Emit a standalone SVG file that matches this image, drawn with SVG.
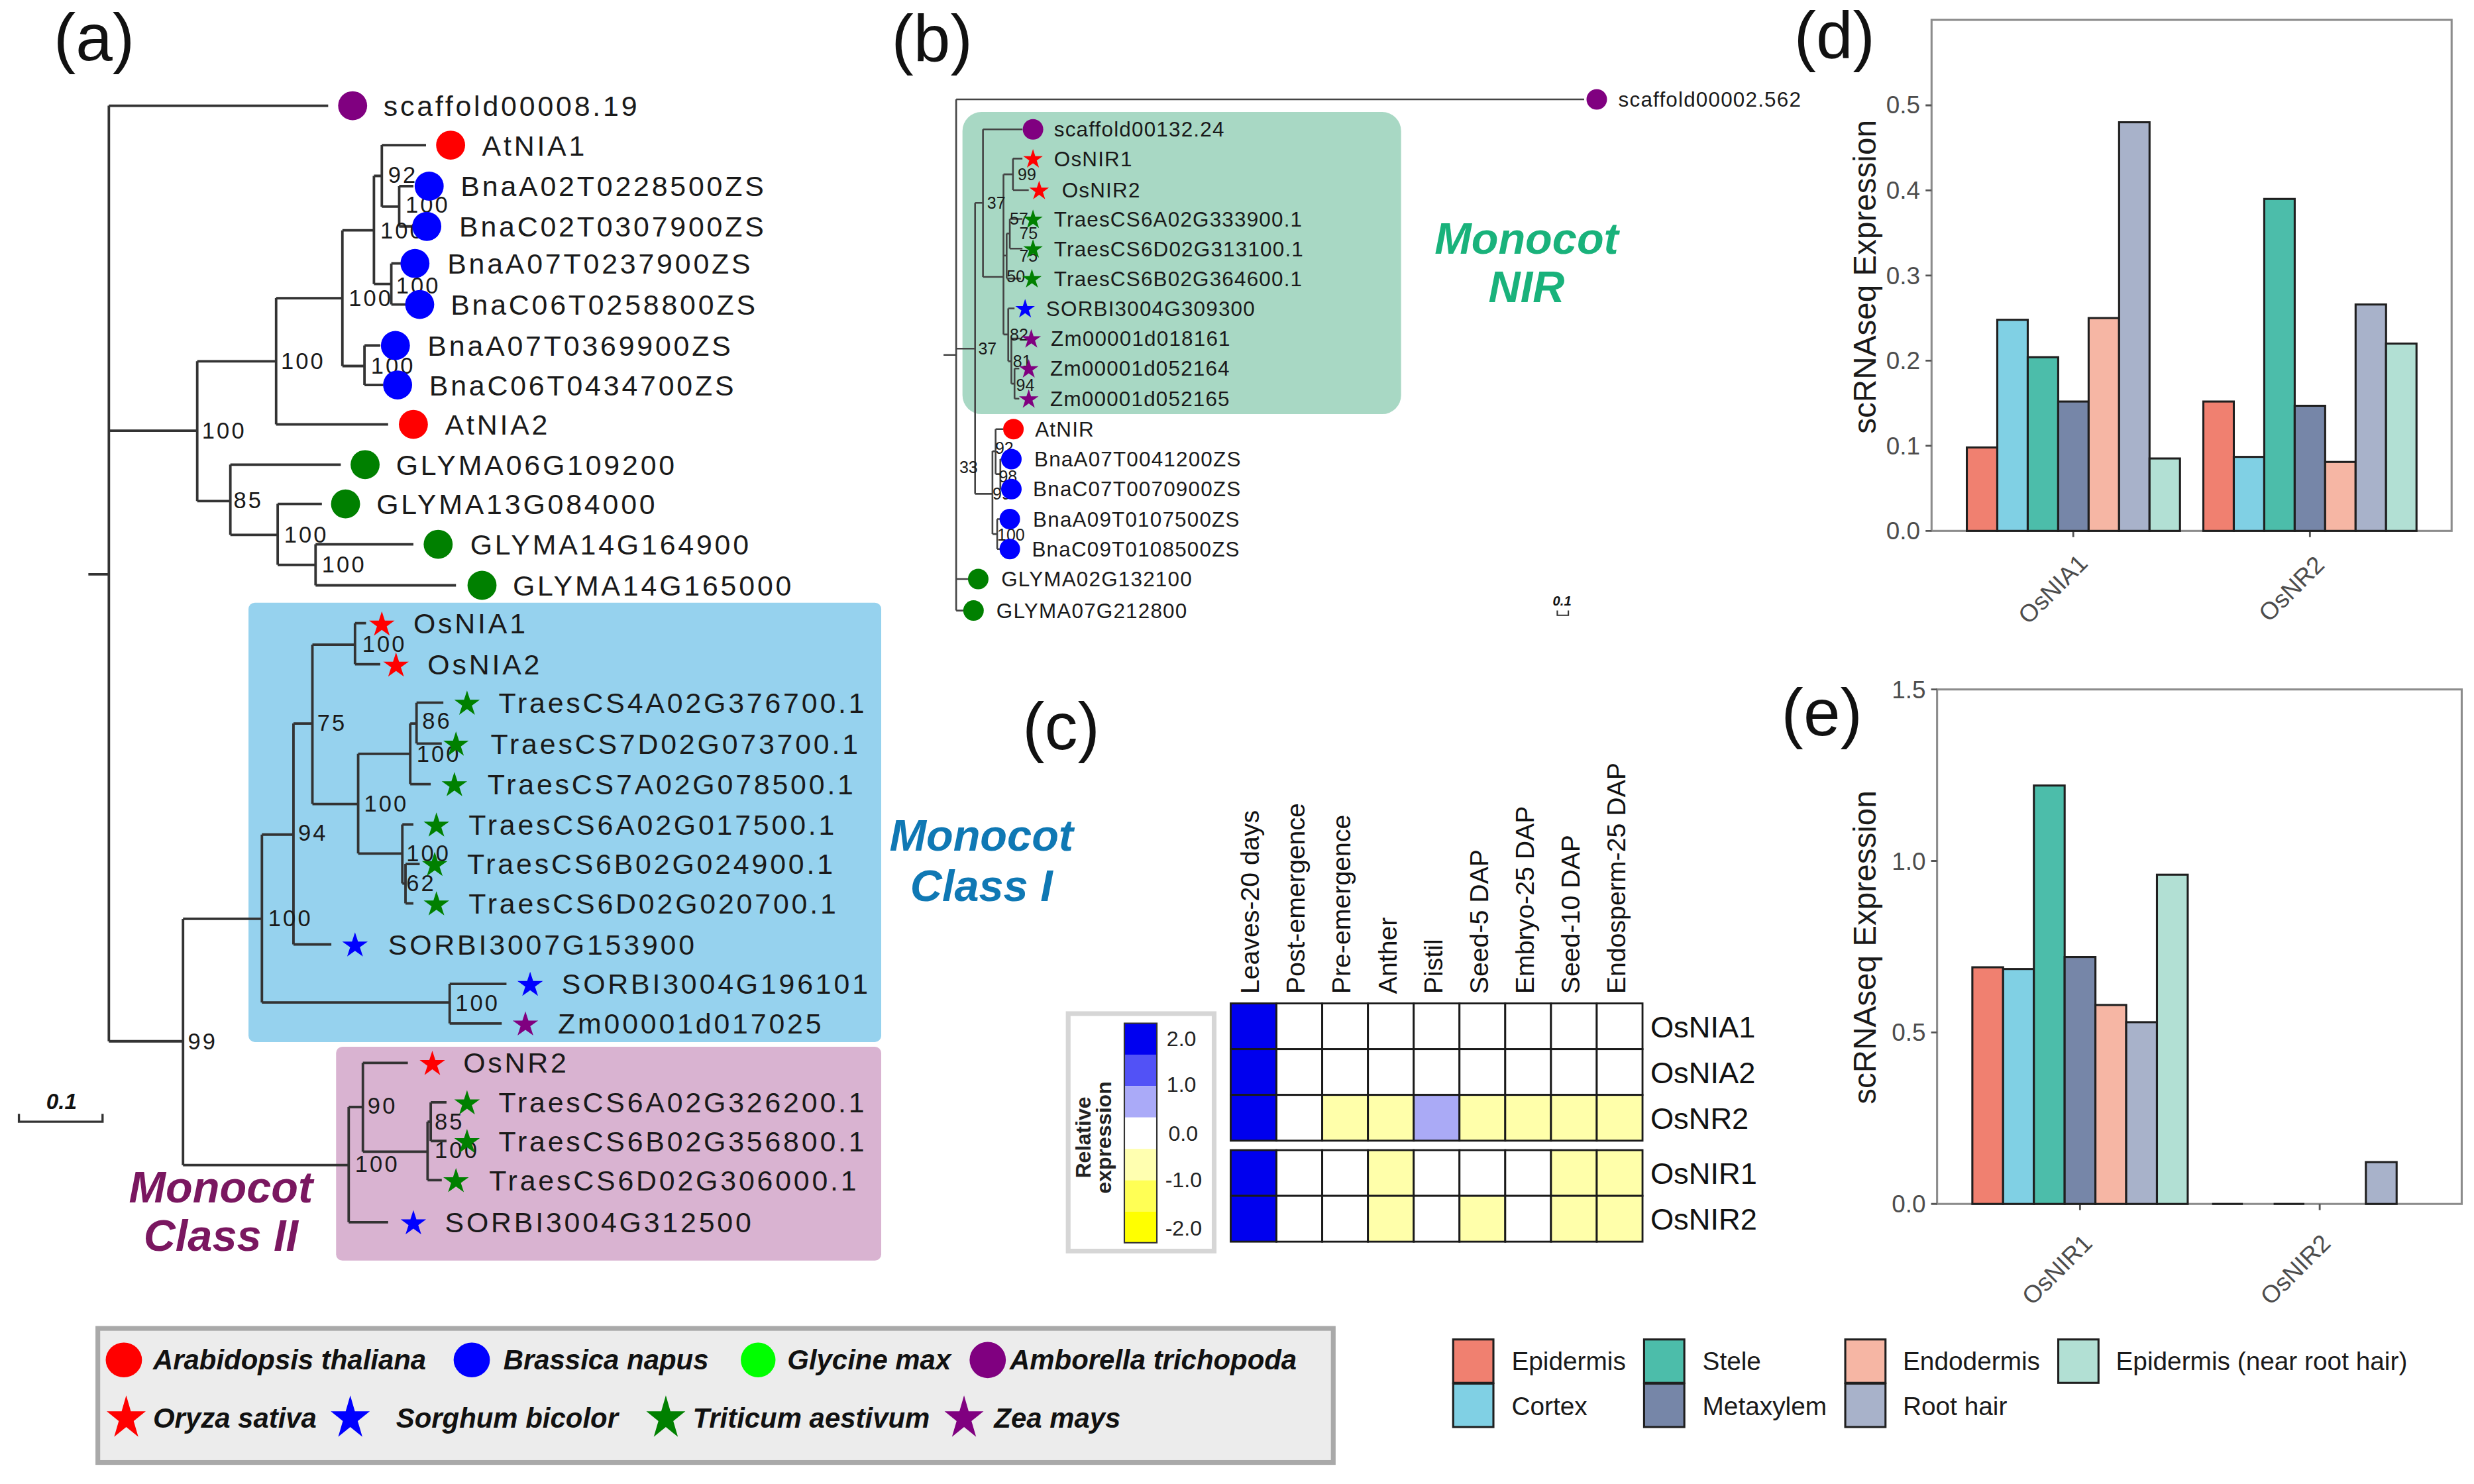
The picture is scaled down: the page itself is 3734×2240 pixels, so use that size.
<svg xmlns="http://www.w3.org/2000/svg" width="3734" height="2240" viewBox="0 0 3734 2240">
<style>
text{font-family:"Liberation Sans",Arial,sans-serif}
.la{font-size:18px;letter-spacing:1.6px;fill:#1a1a1a}
.ba{font-size:14.5px;letter-spacing:1.3px;fill:#1a1a1a}
.lb{font-size:13.2px;letter-spacing:0.5px;fill:#1a1a1a}
.bb{font-size:10.5px;fill:#1a1a1a}
.br{fill:none;stroke:#333;stroke-width:1.6}
.brb{fill:none;stroke:#444;stroke-width:1.1}
.pl{font-size:42px;fill:#111}
.grp{font-size:28px;font-weight:bold;font-style:italic;text-anchor:middle}
.cell{stroke:#1a1a1a;stroke-width:1.2}
.hb{fill:#0000ee}.hw{fill:#fff}.hy{fill:#ffffaa}.hl{fill:#aaaaf6}
.col{font-size:16.5px;fill:#111}
.row{font-size:19px;fill:#111}
.bar{stroke:#1f1f1f;stroke-width:1.3}
.tick{font-size:15.5px;fill:#4d4d4d;text-anchor:end}
.xl{font-size:15.5px;fill:#4d4d4d;text-anchor:end}
.ax{stroke:#8c8c8c;fill:none;stroke-width:1.3}
.yt{font-size:20px;fill:#1a1a1a;text-anchor:middle}
.lg{font-size:16.3px;fill:#1a1a1a}
.sp{font-size:17.6px;font-weight:bold;font-style:italic;fill:#111}
.ep{fill:#f08070}.co{fill:#80d0e4}.ste{fill:#4cbdaa}.mx{fill:#7686a8}.en{fill:#f6b6a4}.rh{fill:#a8b2ca}.enr{fill:#b2e0d4}
.r{fill:#ff0000}.b{fill:#0000ff}.g{fill:#008000}.p{fill:#800080}
</style>
<defs>
<path id="st" d="M0,-10L2.245,-3.09L9.511,-3.09L3.633,1.18L5.878,8.09L0,3.82L-5.878,8.09L-3.633,1.18L-9.511,-3.09L-2.245,-3.09Z"/>
</defs>
<rect x="0" y="0" width="3734" height="2240" fill="#ffffff"/>
<g transform="scale(2.3814)">

<!-- ============ PANEL A ============ -->
<g id="panel-a">
<text class="pl" x="34" y="38">(a)</text>
<rect id="a-box-class1" x="157.5" y="382" width="401" height="278.5" rx="4" fill="#96d2ee"/>
<rect id="a-box-class2" x="213" y="663.5" width="345.5" height="135.5" rx="4" fill="#d9b3d1"/>
<g id="a-group-labels">
<text class="grp" x="622" y="539" fill="#0f78b4">Monocot</text>
<text class="grp" x="622" y="571" fill="#0f78b4">Class I</text>
<text class="grp" x="140" y="762" fill="#7a1760">Monocot</text>
<text class="grp" x="140" y="793" fill="#7a1760">Class II</text>
</g>
<g id="a-branches" class="br">
<path d="M69,67V660M56,364H69M69,67H208"/>
<path d="M69,273H125M125,229V317.6M125,229H175M175,189V269M175,269H246"/>
<path d="M175,189H217M217,146V232M217,146H237M237,111.5V180M237,111.5H242M242,92V131M242,92H270M242,131H253M253,118V143.5M253,118H262M253,143.5H261"/>
<path d="M237,180H248M248,167V193M248,167H254M248,193H257"/>
<path d="M217,232H231M231,219V244M231,219H241M231,244H243"/>
<path d="M125,317.6H146M146,294.5V339M146,294.5H216M146,339H176M176,319.4V358M176,319.4H204M176,358H200M200,345V371M200,345H262M200,371H289"/>
<path d="M69,660H116M116,582.4V738.5M116,582.4H166M166,529V635.4M166,529H186M186,458.6V598.6M186,458.6H198M198,408.6V509.6"/>
<path d="M198,408.6H225M225,395V421M225,395H232M225,421H241"/>
<path d="M198,509.6H227M227,477.8V541M227,477.8H260M260,458.6V497M260,458.6H264M264,445.4V471.3M264,445.4H281M264,471.3H280M260,497H273"/>
<path d="M227,541H255M255,522.6V560M255,522.6H262M255,560H257M257,547.6V572.6M257,547.6H266M257,572.6H262"/>
<path d="M186,598.6H210M166,635.4H285M285,623.6V648.7M285,623.6H321M285,648.7H318"/>
<path d="M116,738.5H221M221,701.7V774.7M221,701.7H230M230,673.7V730M230,673.7H258.5M230,730H271M271,711V748M271,711H273M273,698.7V723.2M273,698.7H283M273,723.2H283M271,748H280M221,774.7H246"/>
</g>
<g id="a-bootstrap" class="ba">
<text x="128" y="278">100</text><text x="178" y="234">100</text><text x="221" y="194">100</text>
<text x="241" y="151">100</text><text x="246" y="116">92</text><text x="257" y="135">100</text>
<text x="251" y="186">100</text><text x="235" y="237">100</text><text x="148" y="322">85</text>
<text x="180" y="344">100</text><text x="204" y="363">100</text><text x="119" y="665">99</text>
<text x="170" y="587">100</text><text x="189" y="533">94</text><text x="201" y="463">75</text>
<text x="229.6" y="413">100</text><text x="230.7" y="514.6">100</text><text x="264" y="483">100</text>
<text x="267.6" y="462">86</text><text x="257.5" y="546">100</text><text x="257.5" y="565">62</text>
<text x="288.6" y="641">100</text><text x="225" y="743">100</text><text x="233" y="706">90</text>
<text x="275.5" y="734">100</text><text x="275.5" y="716">85</text>
</g>
<g id="a-leaves" class="la">
<g id="a-scaffold00008.19"><circle class="p" cx="223.5" cy="67" r="9.2"/><text x="243" y="73.5">scaffold00008.19</text></g>
<g id="a-AtNIA1"><circle class="r" cx="285.6" cy="92" r="9.2"/><text x="305.5" y="98.5">AtNIA1</text></g>
<g id="a-BnaA02T0228500ZS"><circle class="b" cx="272" cy="118" r="9.2"/><text x="292" y="124.5">BnaA02T0228500ZS</text></g>
<g id="a-BnaC02T0307900ZS"><circle class="b" cx="270.5" cy="143.5" r="9.2"/><text x="291" y="150">BnaC02T0307900ZS</text></g>
<g id="a-BnaA07T0237900ZS"><circle class="b" cx="263" cy="167" r="9.2"/><text x="283.5" y="173.5">BnaA07T0237900ZS</text></g>
<g id="a-BnaC06T0258800ZS"><circle class="b" cx="266" cy="193" r="9.2"/><text x="285.6" y="199.5">BnaC06T0258800ZS</text></g>
<g id="a-BnaA07T0369900ZS"><circle class="b" cx="250.6" cy="219" r="9.2"/><text x="271" y="225.5">BnaA07T0369900ZS</text></g>
<g id="a-BnaC06T0434700ZS"><circle class="b" cx="252" cy="244" r="9.2"/><text x="272" y="250.5">BnaC06T0434700ZS</text></g>
<g id="a-AtNIA2"><circle class="r" cx="262" cy="269" r="9.2"/><text x="282" y="275.5">AtNIA2</text></g>
<g id="a-GLYMA06G109200"><circle class="g" cx="231.4" cy="294.5" r="9.2"/><text x="251" y="301">GLYMA06G109200</text></g>
<g id="a-GLYMA13G084000"><circle class="g" cx="219" cy="319.4" r="9.2"/><text x="238.6" y="326">GLYMA13G084000</text></g>
<g id="a-GLYMA14G164900"><circle class="g" cx="277.7" cy="345" r="9.2"/><text x="298" y="351.5">GLYMA14G164900</text></g>
<g id="a-GLYMA14G165000"><circle class="g" cx="305.5" cy="371" r="9.2"/><text x="325" y="377.5">GLYMA14G165000</text></g>
<g id="a-OsNIA1"><use href="#st" class="r" transform="translate(242,396) scale(.85)"/><text x="262" y="401.5">OsNIA1</text></g>
<g id="a-OsNIA2"><use href="#st" class="r" transform="translate(251,422) scale(.85)"/><text x="271" y="427.5">OsNIA2</text></g>
<g id="a-TraesCS4A02G376700.1"><use href="#st" class="g" transform="translate(296,446.2) scale(.85)"/><text x="316" y="452">TraesCS4A02G376700.1</text></g>
<g id="a-TraesCS7D02G073700.1"><use href="#st" class="g" transform="translate(289,472.1) scale(.85)"/><text x="311" y="478">TraesCS7D02G073700.1</text></g>
<g id="a-TraesCS7A02G078500.1"><use href="#st" class="g" transform="translate(288,497.8) scale(.85)"/><text x="309" y="503.5">TraesCS7A02G078500.1</text></g>
<g id="a-TraesCS6A02G017500.1"><use href="#st" class="g" transform="translate(276.6,523.4) scale(.85)"/><text x="297" y="529">TraesCS6A02G017500.1</text></g>
<g id="a-TraesCS6B02G024900.1"><use href="#st" class="g" transform="translate(275.5,548.4) scale(.85)"/><text x="296" y="554">TraesCS6B02G024900.1</text></g>
<g id="a-TraesCS6D02G020700.1"><use href="#st" class="g" transform="translate(276.6,573.4) scale(.85)"/><text x="297" y="579">TraesCS6D02G020700.1</text></g>
<g id="a-SORBI3007G153900"><use href="#st" class="b" transform="translate(225,599.4) scale(.85)"/><text x="246" y="605">SORBI3007G153900</text></g>
<g id="a-SORBI3004G196101"><use href="#st" class="b" transform="translate(336,624.4) scale(.85)"/><text x="356" y="630">SORBI3004G196101</text></g>
<g id="a-Zm00001d017025"><use href="#st" class="p" transform="translate(333,649.5) scale(.85)"/><text x="353.6" y="655">Zm00001d017025</text></g>
<g id="a-OsNR2"><use href="#st" class="r" transform="translate(274,674.5) scale(.85)"/><text x="293.6" y="680">OsNR2</text></g>
<g id="a-TraesCS6A02G326200.1"><use href="#st" class="g" transform="translate(296,699.5) scale(.85)"/><text x="316" y="705">TraesCS6A02G326200.1</text></g>
<g id="a-TraesCS6B02G356800.1"><use href="#st" class="g" transform="translate(296,724) scale(.85)"/><text x="316" y="729.7">TraesCS6B02G356800.1</text></g>
<g id="a-TraesCS6D02G306000.1"><use href="#st" class="g" transform="translate(289,748.8) scale(.85)"/><text x="310" y="754.5">TraesCS6D02G306000.1</text></g>
<g id="a-SORBI3004G312500"><use href="#st" class="b" transform="translate(262,775.5) scale(.85)"/><text x="282" y="781">SORBI3004G312500</text></g>
</g>
<g id="a-scalebar">
<text x="39" y="703" font-size="14" font-weight="bold" font-style="italic" text-anchor="middle" fill="#111">0.1</text>
<path d="M12,706V711H65V706" fill="none" stroke="#333" stroke-width="1.4"/>
</g>
</g>

<!-- ============ PANEL B ============ -->
<g id="panel-b">
<text class="pl" x="565" y="39">(b)</text>
<rect id="b-box-nir" x="610" y="71" width="278" height="191.5" rx="12" fill="#a8d8c4"/>
<text class="grp" x="967.5" y="160.7" fill="#19b27b">Monocot</text>
<text class="grp" x="967.5" y="191.5" fill="#19b27b">NIR</text>
<g id="b-branches" class="brb">
<path d="M606,63V387M598,225H606M606,63H1004M606,221H618M618,128.6V313"/>
<path d="M618,128.6H623M623,82V175.5M623,82H648M623,175.5H636M636,110.5V212"/>
<path d="M636,110.5H642M642,100.5V120.5M642,100.5H648M642,120.5H652"/>
<path d="M636,162H638M638,148V176.5M638,148H640M640,138.8V157.6M640,138.8H648M640,157.6H648M638,176.5H647"/>
<path d="M636,212H639M639,195.5V229M639,195.5H643M639,229H641M641,214.6V243.2M641,214.6H647M641,243.2H643M643,233.6V252.7M643,233.6H646M643,252.7H646"/>
<path d="M618,313H629M629,286V338.5M629,286H631M631,272V300.5M631,272H636M631,300.5H634M634,291V310M634,291H635M634,310H635M629,338.5H632M632,329V348M632,329H634M632,348H634"/>
<path d="M606,367H614M606,387H611"/>
</g>
<g id="b-bootstrap" class="bb">
<text x="625.6" y="132.4">37</text><text x="620" y="224.8">37</text><text x="645" y="114.3">99</text>
<text x="640" y="142.3">57</text><text x="646" y="151.8">75</text><text x="646" y="165.8">75</text>
<text x="638" y="178.8">50</text><text x="640" y="215.8">82</text><text x="642" y="232.8">81</text>
<text x="644" y="247.8">94</text><text x="608" y="299.8">33</text><text x="630.7" y="287.8">92</text>
<text x="633" y="305.8">98</text><text x="629" y="316.8">99</text><text x="632" y="342.8">100</text>
</g>
<g id="b-leaves" class="lb">
<g id="b-scaffold00002.562"><circle class="p" cx="1012" cy="63" r="6.5"/><text x="1025.7" y="67.7">scaffold00002.562</text></g>
<g id="b-scaffold00132.24"><circle class="p" cx="654.7" cy="82" r="6.5"/><text x="668" y="86.7">scaffold00132.24</text></g>
<g id="b-OsNIR1"><use href="#st" class="r" transform="translate(654.7,101) scale(.65)"/><text x="668" y="105.2">OsNIR1</text></g>
<g id="b-OsNIR2"><use href="#st" class="r" transform="translate(658.6,121) scale(.65)"/><text x="673" y="125.2">OsNIR2</text></g>
<g id="b-TraesCS6A02G333900.1"><use href="#st" class="g" transform="translate(654.7,139.3) scale(.65)"/><text x="668" y="143.5">TraesCS6A02G333900.1</text></g>
<g id="b-TraesCS6D02G313100.1"><use href="#st" class="g" transform="translate(654.7,158.1) scale(.65)"/><text x="668" y="162.3">TraesCS6D02G313100.1</text></g>
<g id="b-TraesCS6B02G364600.1"><use href="#st" class="g" transform="translate(654,177) scale(.65)"/><text x="668" y="181.2">TraesCS6B02G364600.1</text></g>
<g id="b-SORBI3004G309300"><use href="#st" class="b" transform="translate(649.7,196) scale(.65)"/><text x="663" y="200.2">SORBI3004G309300</text></g>
<g id="b-Zm00001d018161"><use href="#st" class="p" transform="translate(653.6,215.1) scale(.65)"/><text x="666" y="219.3">Zm00001d018161</text></g>
<g id="b-Zm00001d052164"><use href="#st" class="p" transform="translate(652,234.1) scale(.65)"/><text x="665.6" y="238.3">Zm00001d052164</text></g>
<g id="b-Zm00001d052165"><use href="#st" class="p" transform="translate(652,253.2) scale(.65)"/><text x="665.6" y="257.4">Zm00001d052165</text></g>
<g id="b-AtNIR"><circle class="r" cx="642.3" cy="272" r="6.5"/><text x="656" y="276.7">AtNIR</text></g>
<g id="b-BnaA07T0041200ZS"><circle class="b" cx="641" cy="291" r="6.5"/><text x="655.5" y="295.7">BnaA07T0041200ZS</text></g>
<g id="b-BnaC07T0070900ZS"><circle class="b" cx="641" cy="310" r="6.5"/><text x="654.7" y="314.7">BnaC07T0070900ZS</text></g>
<g id="b-BnaA09T0107500ZS"><circle class="b" cx="640" cy="329" r="6.5"/><text x="654.7" y="333.7">BnaA09T0107500ZS</text></g>
<g id="b-BnaC09T0108500ZS"><circle class="b" cx="640" cy="348" r="6.5"/><text x="654" y="352.7">BnaC09T0108500ZS</text></g>
<g id="b-GLYMA02G132100"><circle class="g" cx="620" cy="367" r="6.5"/><text x="634.6" y="371.7">GLYMA02G132100</text></g>
<g id="b-GLYMA07G212800"><circle class="g" cx="617" cy="387" r="6.5"/><text x="631.5" y="391.7">GLYMA07G212800</text></g>
</g>
<g id="b-scalebar">
<text x="990" y="384" font-size="8.5" font-weight="bold" font-style="italic" text-anchor="middle" fill="#111">0.1</text>
<path d="M987,387V390H994V387" fill="none" stroke="#333" stroke-width="0.9"/>
</g>
</g>

<!-- ============ PANEL C ============ -->
<g id="panel-c">
<text class="pl" x="648" y="475">(c)</text>
<g id="c-columns" class="col">
<text transform="translate(798,630) rotate(-90)">Leaves-20 days</text>
<text transform="translate(827,630) rotate(-90)">Post-emergence</text>
<text transform="translate(856,630) rotate(-90)">Pre-emergence</text>
<text transform="translate(885,630) rotate(-90)">Anther</text>
<text transform="translate(914,630) rotate(-90)">Pistil</text>
<text transform="translate(943,630) rotate(-90)">Seed-5 DAP</text>
<text transform="translate(972,630) rotate(-90)">Embryo-25 DAP</text>
<text transform="translate(1001,630) rotate(-90)">Seed-10 DAP</text>
<text transform="translate(1030,630) rotate(-90)">Endosperm-25 DAP</text>
</g>
<g id="c-nr-block" transform="translate(780,636)" class="cell">
<g id="c-row-OsNIA1"><rect class="hb" x="0" y="0" width="29" height="29"/><rect class="hw" x="29" y="0" width="29" height="29"/><rect class="hw" x="58" y="0" width="29" height="29"/><rect class="hw" x="87" y="0" width="29" height="29"/><rect class="hw" x="116" y="0" width="29" height="29"/><rect class="hw" x="145" y="0" width="29" height="29"/><rect class="hw" x="174" y="0" width="29" height="29"/><rect class="hw" x="203" y="0" width="29" height="29"/><rect class="hw" x="232" y="0" width="29" height="29"/></g>
<g id="c-row-OsNIA2"><rect class="hb" x="0" y="29" width="29" height="29"/><rect class="hw" x="29" y="29" width="29" height="29"/><rect class="hw" x="58" y="29" width="29" height="29"/><rect class="hw" x="87" y="29" width="29" height="29"/><rect class="hw" x="116" y="29" width="29" height="29"/><rect class="hw" x="145" y="29" width="29" height="29"/><rect class="hw" x="174" y="29" width="29" height="29"/><rect class="hw" x="203" y="29" width="29" height="29"/><rect class="hw" x="232" y="29" width="29" height="29"/></g>
<g id="c-row-OsNR2"><rect class="hb" x="0" y="58" width="29" height="29"/><rect class="hw" x="29" y="58" width="29" height="29"/><rect class="hy" x="58" y="58" width="29" height="29"/><rect class="hy" x="87" y="58" width="29" height="29"/><rect class="hl" x="116" y="58" width="29" height="29"/><rect class="hy" x="145" y="58" width="29" height="29"/><rect class="hy" x="174" y="58" width="29" height="29"/><rect class="hy" x="203" y="58" width="29" height="29"/><rect class="hy" x="232" y="58" width="29" height="29"/></g>
</g>
<g id="c-nir-block" transform="translate(780,729)" class="cell">
<g id="c-row-OsNIR1"><rect class="hb" x="0" y="0" width="29" height="29"/><rect class="hw" x="29" y="0" width="29" height="29"/><rect class="hw" x="58" y="0" width="29" height="29"/><rect class="hy" x="87" y="0" width="29" height="29"/><rect class="hw" x="116" y="0" width="29" height="29"/><rect class="hw" x="145" y="0" width="29" height="29"/><rect class="hw" x="174" y="0" width="29" height="29"/><rect class="hy" x="203" y="0" width="29" height="29"/><rect class="hy" x="232" y="0" width="29" height="29"/></g>
<g id="c-row-OsNIR2"><rect class="hb" x="0" y="29" width="29" height="29"/><rect class="hw" x="29" y="29" width="29" height="29"/><rect class="hw" x="58" y="29" width="29" height="29"/><rect class="hy" x="87" y="29" width="29" height="29"/><rect class="hw" x="116" y="29" width="29" height="29"/><rect class="hy" x="145" y="29" width="29" height="29"/><rect class="hw" x="174" y="29" width="29" height="29"/><rect class="hy" x="203" y="29" width="29" height="29"/><rect class="hy" x="232" y="29" width="29" height="29"/></g>
</g>
<g id="c-rowlabels" class="row">
<text x="1046" y="657.5">OsNIA1</text><text x="1046" y="686.5">OsNIA2</text><text x="1046" y="715.5">OsNR2</text>
<text x="1046" y="750.5">OsNIR1</text><text x="1046" y="779.5">OsNIR2</text>
</g>
<g id="c-legend">
<rect x="677" y="642.5" width="92.5" height="150.5" fill="#fff" stroke="#d6d6d6" stroke-width="3"/>
<rect x="712.6" y="648.6" width="20.6" height="19.9" fill="#0000f0"/>
<rect x="712.6" y="668.5" width="20.6" height="19.9" fill="#5252f6"/>
<rect x="712.6" y="688.4" width="20.6" height="19.9" fill="#aaaaf8"/>
<rect x="712.6" y="708.3" width="20.6" height="19.9" fill="#ffffff"/>
<rect x="712.6" y="728.2" width="20.6" height="19.9" fill="#ffffb0"/>
<rect x="712.6" y="748.1" width="20.6" height="19.9" fill="#ffff55"/>
<rect x="712.6" y="768" width="20.6" height="19.7" fill="#ffff00"/>
<rect x="712.6" y="648.6" width="20.6" height="139.1" fill="none" stroke="#333" stroke-width="0.9"/>
<g font-size="13.5" fill="#222">
<text x="739.4" y="663">2.0</text><text x="739.4" y="692">1.0</text><text x="740.5" y="723">0.0</text>
<text x="738.5" y="752.5">-1.0</text><text x="738.5" y="783">-2.0</text>
</g>
<g font-size="13.5" font-weight="bold" fill="#222" text-anchor="middle">
<text transform="translate(691,721) rotate(-90)">Relative</text>
<text transform="translate(704,721) rotate(-90)">expression</text>
</g>
</g>
</g>

<!-- ============ PANEL D ============ -->
<g id="panel-d">
<text class="pl" x="1137" y="37">(d)</text>
<rect class="ax" x="1224.2" y="12.6" width="329.6" height="323.9"/>
<g id="d-yticks">
<path d="M1220.4,336.5H1224.2M1220.4,282.55H1224.2M1220.4,228.6H1224.2M1220.4,174.65H1224.2M1220.4,120.7H1224.2M1220.4,66.75H1224.2M1314,336.5V340.5M1464,336.5V340.5" stroke="#555" stroke-width="1.2"/>
<text class="tick" x="1217" y="342">0.0</text><text class="tick" x="1217" y="288">0.1</text><text class="tick" x="1217" y="234">0.2</text>
<text class="tick" x="1217" y="180">0.3</text><text class="tick" x="1217" y="126">0.4</text><text class="tick" x="1217" y="72">0.5</text>
</g>
<text class="yt" transform="translate(1189,175.5) rotate(-90)">scRNAseq Expression</text>
<g id="d-bars-OsNIA1" class="bar">
<rect class="ep" x="1246.55" y="283.6" width="19.3" height="52.9"/>
<rect class="co" x="1265.85" y="202.7" width="19.3" height="133.8"/>
<rect class="ste" x="1285.15" y="226.4" width="19.3" height="110.1"/>
<rect class="mx" x="1304.45" y="254.5" width="19.3" height="82"/>
<rect class="en" x="1323.75" y="201.6" width="19.3" height="134.9"/>
<rect class="rh" x="1343.05" y="77.5" width="19.3" height="259"/>
<rect class="enr" x="1362.35" y="290.6" width="19.3" height="45.9"/>
</g>
<g id="d-bars-OsNR2" class="bar">
<rect class="ep" x="1396.45" y="254.5" width="19.3" height="82"/>
<rect class="co" x="1415.75" y="289.6" width="19.3" height="46.9"/>
<rect class="ste" x="1435.05" y="126.1" width="19.3" height="210.4"/>
<rect class="mx" x="1454.35" y="257.2" width="19.3" height="79.3"/>
<rect class="en" x="1473.65" y="292.8" width="19.3" height="43.7"/>
<rect class="rh" x="1492.95" y="193" width="19.3" height="143.5"/>
<rect class="enr" x="1512.25" y="217.8" width="19.3" height="118.7"/>
</g>
<text class="xl" transform="translate(1324,358) rotate(-45)">OsNIA1</text>
<text class="xl" transform="translate(1474,359) rotate(-45)">OsNR2</text>
</g>

<!-- ============ PANEL E ============ -->
<g id="panel-e">
<text class="pl" x="1129" y="466">(e)</text>
<rect class="ax" x="1227.7" y="437" width="332.5" height="326.1"/>
<g id="e-yticks">
<path d="M1223.9,763.1H1227.7M1223.9,654.4H1227.7M1223.9,545.7H1227.7M1223.9,437H1227.7M1318.3,763.1V767M1470.2,763.1V767" stroke="#555" stroke-width="1.2"/>
<text class="tick" x="1220.5" y="768.6">0.0</text><text class="tick" x="1220.5" y="659.9">0.5</text>
<text class="tick" x="1220.5" y="551.2">1.0</text><text class="tick" x="1220.5" y="442.5">1.5</text>
</g>
<text class="yt" transform="translate(1189,600.5) rotate(-90)">scRNAseq Expression</text>
<g id="e-bars-OsNIR1" class="bar">
<rect class="ep" x="1250.05" y="613.1" width="19.5" height="150"/>
<rect class="co" x="1269.55" y="614.2" width="19.5" height="148.9"/>
<rect class="ste" x="1289.05" y="497.9" width="19.5" height="265.2"/>
<rect class="mx" x="1308.55" y="606.6" width="19.5" height="156.5"/>
<rect class="en" x="1328.05" y="637" width="19.5" height="126.1"/>
<rect class="rh" x="1347.55" y="647.9" width="19.5" height="115.2"/>
<rect class="enr" x="1367.05" y="554.4" width="19.5" height="208.7"/>
</g>
<g id="e-bars-OsNIR2" class="bar">
<path d="M1402,763.1H1421.5M1441,763.1H1460.5" stroke="#1f1f1f" stroke-width="1.3"/>
<rect class="rh" x="1499.45" y="736.6" width="19.5" height="26.5"/>
</g>
<text class="xl" transform="translate(1327,789) rotate(-45)">OsNIR1</text>
<text class="xl" transform="translate(1478,789) rotate(-45)">OsNIR2</text>
</g>

<!-- ============ SPECIES LEGEND ============ -->
<g id="species-legend">
<rect x="62" y="842" width="783" height="85" fill="#ececec" stroke="#a9a9a9" stroke-width="3"/>
<g id="sp-arabidopsis"><ellipse class="r" cx="78.5" cy="862" rx="11.5" ry="11"/><text class="sp" x="97" y="868">Arabidopsis thaliana</text></g>
<g id="sp-brassica"><ellipse class="b" cx="299" cy="862" rx="11.5" ry="11"/><text class="sp" x="319" y="868">Brassica napus</text></g>
<g id="sp-glycine"><ellipse cx="480.5" cy="862" rx="11" ry="11" fill="#00ff00"/><text class="sp" x="499" y="868">Glycine max</text></g>
<g id="sp-amborella"><ellipse class="p" cx="626" cy="862" rx="11.5" ry="11.5"/><text class="sp" x="640" y="868">Amborella trichopoda</text></g>
<g id="sp-oryza"><use href="#st" class="r" transform="translate(80,899) scale(1.3,1.45)"/><text class="sp" x="97" y="905">Oryza sativa</text></g>
<g id="sp-sorghum"><use href="#st" class="b" transform="translate(222,899) scale(1.3,1.45)"/><text class="sp" x="251" y="905">Sorghum bicolor</text></g>
<g id="sp-triticum"><use href="#st" class="g" transform="translate(422,899) scale(1.3,1.45)"/><text class="sp" x="439" y="905">Triticum aestivum</text></g>
<g id="sp-zea"><use href="#st" class="p" transform="translate(611,899) scale(1.3,1.45)"/><text class="sp" x="630" y="905">Zea mays</text></g>
</g>

<!-- ============ CELL TYPE LEGEND ============ -->
<g id="celltype-legend" class="lg">
<g id="lg-epidermis"><rect class="ep bar" x="921" y="849" width="25.5" height="27.5"/><text x="958" y="868.5">Epidermis</text></g>
<g id="lg-cortex"><rect class="co bar" x="921" y="877" width="25.5" height="27.5"/><text x="958" y="897">Cortex</text></g>
<g id="lg-stele"><rect class="ste bar" x="1042" y="849" width="25.5" height="27.5"/><text x="1079" y="868.5">Stele</text></g>
<g id="lg-metaxylem"><rect class="mx bar" x="1042" y="877" width="25.5" height="27.5"/><text x="1079" y="897">Metaxylem</text></g>
<g id="lg-endodermis"><rect class="en bar" x="1169.5" y="849" width="25.5" height="27.5"/><text x="1206" y="868.5">Endodermis</text></g>
<g id="lg-roothair"><rect class="rh bar" x="1169.5" y="877" width="25.5" height="27.5"/><text x="1206" y="897">Root hair</text></g>
<g id="lg-epid-nrh"><rect class="enr bar" x="1304.5" y="849" width="25.5" height="27.5"/><text x="1341" y="868.5">Epidermis (near root hair)</text></g>
</g>

</g>
</svg>
